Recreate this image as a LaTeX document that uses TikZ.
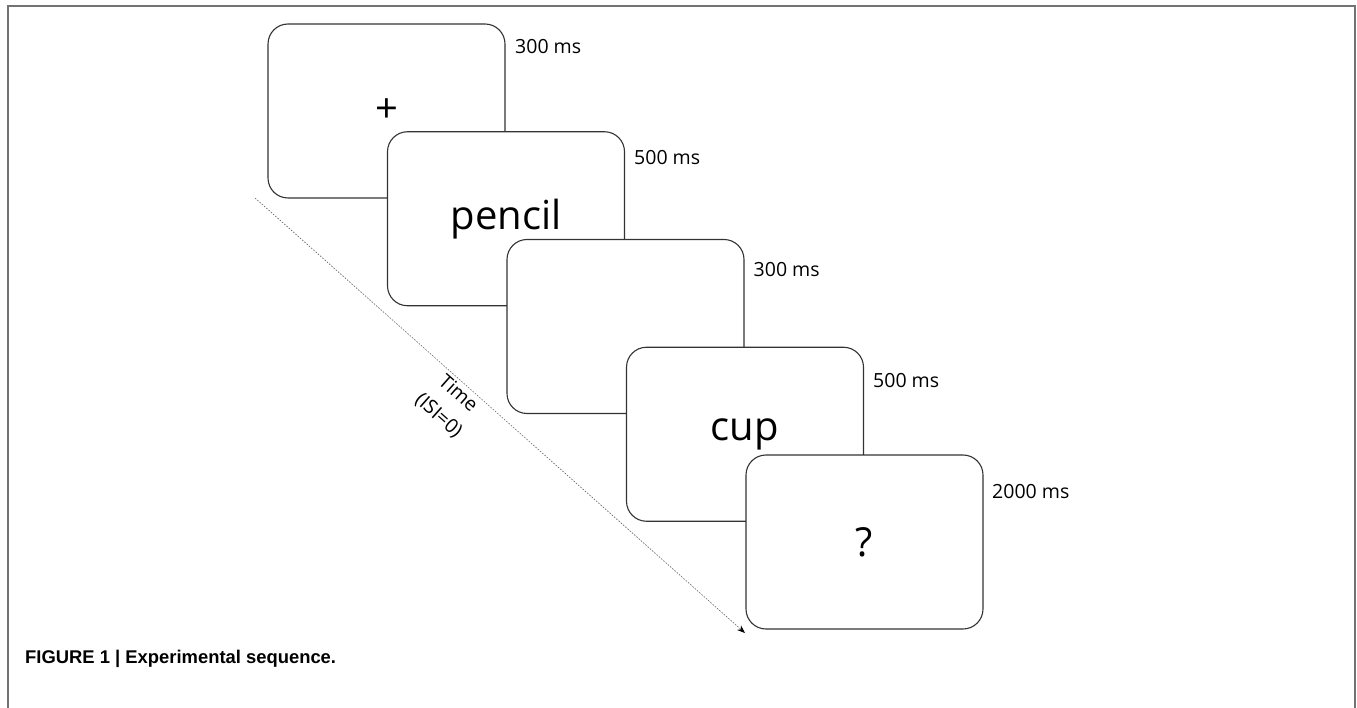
\documentclass[tikz,border=0pt]{standalone}
\usepackage{fontspec}
\setmainfont{Open Sans}
\newfontfamily\capfont{Liberation Sans}
\usetikzlibrary{arrows.meta}

\begin{document}
\begin{tikzpicture}[x=1pt,y=-1pt,
    screen/.style={draw=black!80, fill=white, line width=1.1pt, rounded corners=20pt,
      minimum width=237pt, minimum height=174pt, inner sep=0pt,
      font=\fontsize{40}{48}\selectfont},
    dur/.style={anchor=west, inner sep=0pt, font=\fontsize{19.5}{24}\selectfont}]
    \useasboundingbox (0,0) rectangle (1357,708);
    \draw[black!55, line width=1.8pt] (8,708) -- (8,6) -- (1355,6) -- (1355,708);
    \coordinate (t0) at (255,198);
    \coordinate (t1) at (745,633);
    \draw[black!60, line width=0.6pt, dash pattern=on 1.6pt off 1.4pt,
      -{Stealth[black,length=8pt,width=6pt]}]
      (t0) -- node[sloped, below, pos=0.43, align=center, inner sep=3pt, black,
        font=\fontsize{19.5}{29}\selectfont] (time) {Time\\(ISI=0)} (t1);
    \node[screen] (s1) at (386.5,111) {\raisebox{-4pt}{+}};
    \node[screen] (s2) at (506,218.75) {pencil};
    \node[screen] (s3) at (625.5,326.5) {};
    \node[screen] (s4) at (745,434.25) {cup};
    \node[screen] (s5) at (864.5,542) {?};
    \node[dur] (d1) at (515,47) {300 ms};
    \node[dur] (d2) at (634,158) {500 ms};
    \node[dur] (d3) at (753.5,269.5) {300 ms};
    \node[dur] (d4) at (873,381) {500 ms};
    \node[dur] (d5) at (992,492) {2000 ms};
    \node[anchor=west, inner sep=0pt, font=\capfont\bfseries\fontsize{18.4}{22}\selectfont]
      (cap) at (25,659) {FIGURE 1 | Experimental sequence.};
\end{tikzpicture}
\end{document}
